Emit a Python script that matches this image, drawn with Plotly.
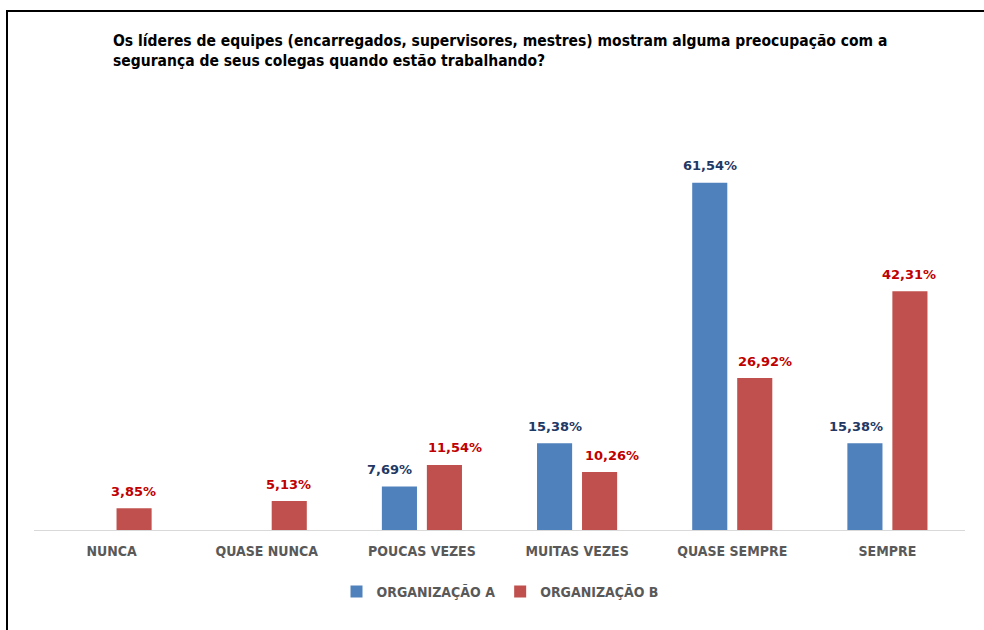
import plotly.graph_objects as go

categories = ["NUNCA", "QUASE NUNCA", "POUCAS VEZES", "MUITAS VEZES", "QUASE SEMPRE", "SEMPRE"]
org_a = [None, None, 7.69, 15.38, 61.54, 15.38]
org_b = [3.85, 5.13, 11.54, 10.26, 26.92, 42.31]
name_a = "ORGANIZAÇÃO A"
name_b = "ORGANIZAÇÃO B"
title = ("Os líderes de equipes (encarregados, supervisores, mestres) mostram alguma preocupação com a<br>"
         "segurança de seus colegas quando estão trabalhando?")

def fmt(v):
    return f"{v:.2f}".replace(".", ",") + "%"

BLUE = "#4F81BD"
RED = "#C0504D"
BLUE_TXT = "#1F3864"
RED_TXT = "#C00000"
NARROW = "DejaVu Sans Condensed, Liberation Sans, Arial, sans-serif"
LBLFONT = "DejaVu Sans, Verdana, sans-serif"

fig = go.Figure()
fig.add_trace(go.Bar(x=categories, y=org_a, name=name_a, marker_color=BLUE,
                     marker_line_width=0))
fig.add_trace(go.Bar(x=categories, y=org_b, name=name_b, marker_color=RED,
                     marker_line_width=0))

# data labels
nudge_a = [0, 0, -10, 0, 0, -9]
nudge_b = [0, 0, 11, 13, 11, 0]
for i, c in enumerate(categories):
    if org_a[i] is not None:
        fig.add_annotation(x=c, y=org_a[i], text=f"<b>{fmt(org_a[i])}</b>", showarrow=False,
                           xref="x", yref="y", xshift=-22 + nudge_a[i], yshift=17,
                           yanchor="middle", font=dict(family=LBLFONT, size=13, color=BLUE_TXT))
    if org_b[i] is not None:
        fig.add_annotation(x=c, y=org_b[i], text=f"<b>{fmt(org_b[i])}</b>", showarrow=False,
                           xref="x", yref="y", xshift=22 + nudge_b[i], yshift=17,
                           yanchor="middle", font=dict(family=LBLFONT, size=13, color=RED_TXT))

L, R, T, B = 34, 19, 135, 100
W, H = 984, 630
pw, ph = W - L - R, H - T - B

fig.add_shape(type="rect", xref="paper", yref="paper",
              x0=(7 - L) / pw, x1=1.2, y0=-0.6, y1=1 + (T - 11) / ph,
              line=dict(color="black", width=2), fillcolor="rgba(0,0,0,0)", layer="above")

fig.update_layout(
    width=W, height=H,
    margin=dict(l=L, r=R, t=T, b=B),
    paper_bgcolor="white", plot_bgcolor="white",
    barmode="group", bargap=0.42, bargroupgap=0.22,
    title=dict(text=f"<b>{title}</b>", x=113 / W, xanchor="left", xref="container",
               y=1 - 46 / H, yanchor="top",
               font=dict(family=NARROW, size=15.5, color="black")),
    showlegend=True,
    legend=dict(orientation="h", x=(500 - L) / pw, xanchor="center", y=(530 - 592) / ph,
                yanchor="middle", font=dict(family=NARROW, size=14, color="#595959", weight="bold"),
                itemwidth=30, traceorder="normal"),
    xaxis=dict(showline=True, linecolor="#D9D9D9", linewidth=1, ticks="",
               tickfont=dict(family=NARROW, size=14, color="#595959", weight="bold"),
               ticklabelstandoff=8, showgrid=False, zeroline=False),
    yaxis=dict(range=[0, 70], visible=False, showgrid=False, zeroline=False),
)

fig.write_html("out.html", config={"displayModeBar": False},
               post_script="document.body.style.margin='0';")
